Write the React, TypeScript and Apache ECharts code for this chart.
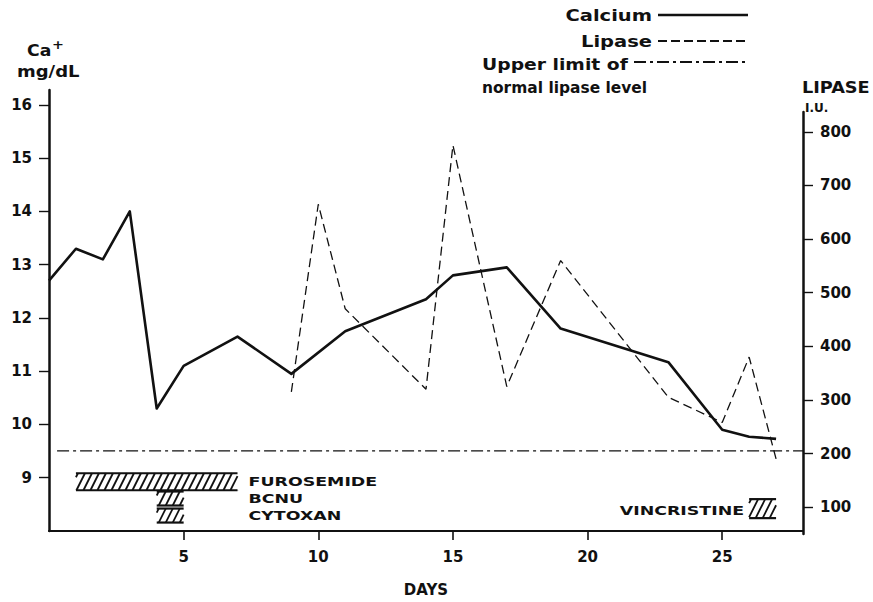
import React, { useEffect, useRef } from "react";
import * as echarts from "echarts";

// ---- data ----
const calciumDays = [0, 1, 2, 3, 4, 5, 7, 9, 11, 14, 15, 17, 19, 23, 25, 26, 27];
const calciumValues = [12.7, 13.3, 13.1, 14.0, 10.3, 11.1, 11.65, 10.95, 11.75, 12.35, 12.8, 12.95, 11.8, 11.17, 9.9, 9.77, 9.73];

const lipaseDays = [9, 10, 11, 14, 15, 17, 19, 23, 25, 26, 27];
const lipaseValues = [315, 665, 470, 320, 775, 325, 560, 305, 258, 380, 190];

const upperLimitDays = [0.3, 28];
const upperLimitLipase = 205;

const dayTicks = [5, 10, 15, 20, 25];
const calciumTicks = [9, 10, 11, 12, 13, 14, 15, 16];
const lipaseTicks = [100, 200, 300, 400, 500, 600, 700, 800];

const drugNames = ["FUROSEMIDE", "BCNU", "CYTOXAN", "VINCRISTINE"];
const drugStart = [1, 4, 4, 26];
const drugEnd = [7, 5, 5, 27];

// ---- layout constants for drug rows (in Ca axis units / px) ----
const ROW_LEVEL = [8.925, 8.61, 8.29, 8.42];
const ROW_H = [17, 14, 14, 19];

const INK = "#111";
const FONT = "DejaVu Sans";

function renderDrug(params: any, api: any) {
  const idx = api.value(2) as number;
  const s = api.coord([api.value(0), ROW_LEVEL[idx]]);
  const e = api.coord([api.value(1), ROW_LEVEL[idx]]);
  const h = ROW_H[idx];
  const x0 = s[0];
  const x1 = e[0];
  const yc = s[1];
  const yT = yc - h / 2;
  const yB = yc + h / 2;
  const children: any[] = [];
  children.push({ type: "line", shape: { x1: x0, y1: yT, x2: x1, y2: yT }, style: { stroke: INK, lineWidth: 2.2 } });
  children.push({ type: "line", shape: { x1: x0, y1: yB, x2: x1, y2: yB }, style: { stroke: INK, lineWidth: 2.2 } });
  const dx = h * 0.5;
  const step = 7;
  for (let k = x0 - dx + 2; k < x1; k += step) {
    const tMin = Math.max(0, (x0 - k) / dx);
    const tMax = Math.min(1, (x1 - k) / dx);
    if (tMax <= tMin) continue;
    children.push({
      type: "line",
      shape: { x1: k + dx * tMin, y1: yB - h * tMin, x2: k + dx * tMax, y2: yB - h * tMax },
      style: { stroke: INK, lineWidth: 1.8 },
    });
  }
  const leftGroup = idx < 3;
  const lx = leftGroup ? api.coord([drugEnd[0], ROW_LEVEL[0]])[0] + 11 : x0 - 5;
  children.push({
    type: "text",
    x: lx,
    y: yc + (leftGroup ? 0 : 2),
    scaleX: 1.45,
    style: {
      text: drugNames[idx],
      fill: INK,
      fontSize: 12,
      fontWeight: "bold",
      fontFamily: FONT,
      align: leftGroup ? "left" : "right",
      verticalAlign: "middle",
    },
  });
  return { type: "group", children };
}

const labelStyle = { color: INK, fontSize: 15, fontWeight: "bold" as const, fontFamily: FONT };

function txt(text: string, x: number, y: number, opts: any = {}) {
  return {
    type: "text",
    x,
    y,
    scaleX: opts.scaleX ?? 1.2,
    style: {
      text,
      fill: INK,
      fontSize: opts.fontSize ?? 14,
      fontWeight: "bold",
      fontFamily: FONT,
      align: opts.align ?? "left",
      verticalAlign: "middle",
    },
  };
}

const option: any = {
  animation: false,
  backgroundColor: "#fff",
  grid: [
    { left: 49, right: 70, top: 90, bottom: 68, containLabel: false },
    { left: 49, right: 70, top: 112, bottom: 68, containLabel: false },
  ],
  xAxis: [
    {
      type: "value",
      gridIndex: 0,
      min: 0,
      max: 28,
      axisLine: { show: true, onZero: false, lineStyle: { color: INK, width: 2.2 } },
      axisTick: { show: true, length: 9, customValues: dayTicks, lineStyle: { color: INK, width: 1.6 } },
      axisLabel: { ...labelStyle, customValues: dayTicks, margin: 18 },
      splitLine: { show: false },
      name: "DAYS",
      nameLocation: "middle",
      nameGap: 51,
      nameTextStyle: { color: INK, fontSize: 15, fontWeight: "bold", fontFamily: FONT },
    },
    {
      type: "value",
      gridIndex: 1,
      min: 0,
      max: 28,
      show: false,
    },
  ],
  yAxis: [
    {
      type: "value",
      gridIndex: 0,
      position: "left",
      min: 8,
      max: 16.28,
      axisLine: { show: true, onZero: false, lineStyle: { color: INK, width: 2.5 } },
      axisTick: { show: true, length: 10, customValues: calciumTicks, lineStyle: { color: INK, width: 1.4 } },
      axisLabel: { ...labelStyle, customValues: calciumTicks, margin: 17 },
      splitLine: { show: false },
    },
    {
      type: "value",
      gridIndex: 1,
      position: "right",
      min: 50,
      max: 837,
      axisLine: { show: true, onZero: false, lineStyle: { color: INK, width: 2.5 } },
      axisTick: { show: true, length: 10, customValues: lipaseTicks, lineStyle: { color: INK, width: 1.4 } },
      axisLabel: { ...labelStyle, customValues: lipaseTicks, margin: 17 },
      splitLine: { show: false },
    },
  ],
  series: [
    {
      name: "Calcium",
      type: "line",
      xAxisIndex: 0,
      yAxisIndex: 0,
      data: calciumDays.map((d, i) => [d, calciumValues[i]]),
      symbol: "none",
      lineStyle: { color: INK, width: 2.6, join: "round" },
      itemStyle: { color: INK },
    },
    {
      name: "Lipase",
      type: "line",
      xAxisIndex: 1,
      yAxisIndex: 1,
      data: lipaseDays.map((d, i) => [d, lipaseValues[i]]),
      symbol: "none",
      lineStyle: { color: INK, width: 1.3, type: [9, 5] },
      itemStyle: { color: INK },
    },
    {
      name: "Upper limit of normal lipase level",
      type: "line",
      xAxisIndex: 1,
      yAxisIndex: 1,
      data: upperLimitDays.map((d) => [d, upperLimitLipase]),
      symbol: "none",
      lineStyle: { color: INK, width: 1.4, type: [12, 4, 3, 4] },
      itemStyle: { color: INK },
    },
    {
      name: "Drugs",
      type: "custom",
      xAxisIndex: 0,
      yAxisIndex: 0,
      clip: false,
      data: drugNames.map((_, i) => [drugStart[i], drugEnd[i], i]),
      encode: { x: [0, 1], y: 2 },
      renderItem: renderDrug,
    },
  ],
  graphic: [
    // left axis title
    txt("Ca", 27, 51, { fontSize: 15, scaleX: 1.15 }),
    txt("+", 52, 44, { fontSize: 13, scaleX: 1.1 }),
    txt("mg/dL", 17, 72, { fontSize: 15, scaleX: 1.2 }),
    // right axis title
    txt("LIPASE", 802, 88, { fontSize: 15, scaleX: 1.18 }),
    txt("I.U.", 805, 108, { fontSize: 12, scaleX: 1.0 }),
    // legend
    txt("Calcium", 652, 16, { align: "right", fontSize: 15, scaleX: 1.3 }),
    { type: "line", shape: { x1: 658, y1: 15, x2: 748, y2: 15 }, style: { stroke: INK, lineWidth: 2.6 } },
    txt("Lipase", 652, 42, { align: "right", fontSize: 15, scaleX: 1.3 }),
    { type: "line", shape: { x1: 658, y1: 41, x2: 748, y2: 41 }, style: { stroke: INK, lineWidth: 2, lineDash: [9, 4] } },
    txt("Upper limit of", 482, 65, { fontSize: 15, scaleX: 1.25 }),
    { type: "line", shape: { x1: 634, y1: 62, x2: 748, y2: 62 }, style: { stroke: INK, lineWidth: 2, lineDash: [12, 4, 3, 4] } },
    txt("normal lipase level", 482, 88, { fontSize: 15, scaleX: 1.03 }),
  ],
};

export default function App() {
  const ref = useRef<HTMLDivElement>(null);
  useEffect(() => {
    const chart = echarts.init(ref.current as HTMLDivElement, null, { renderer: "svg" });
    chart.setOption(option);
    return () => chart.dispose();
  }, []);
  return (
    <div
      ref={ref}
      style={{ position: "absolute", left: 0, top: 0, width: 873, height: 602, background: "#fff" }}
    />
  );
}
